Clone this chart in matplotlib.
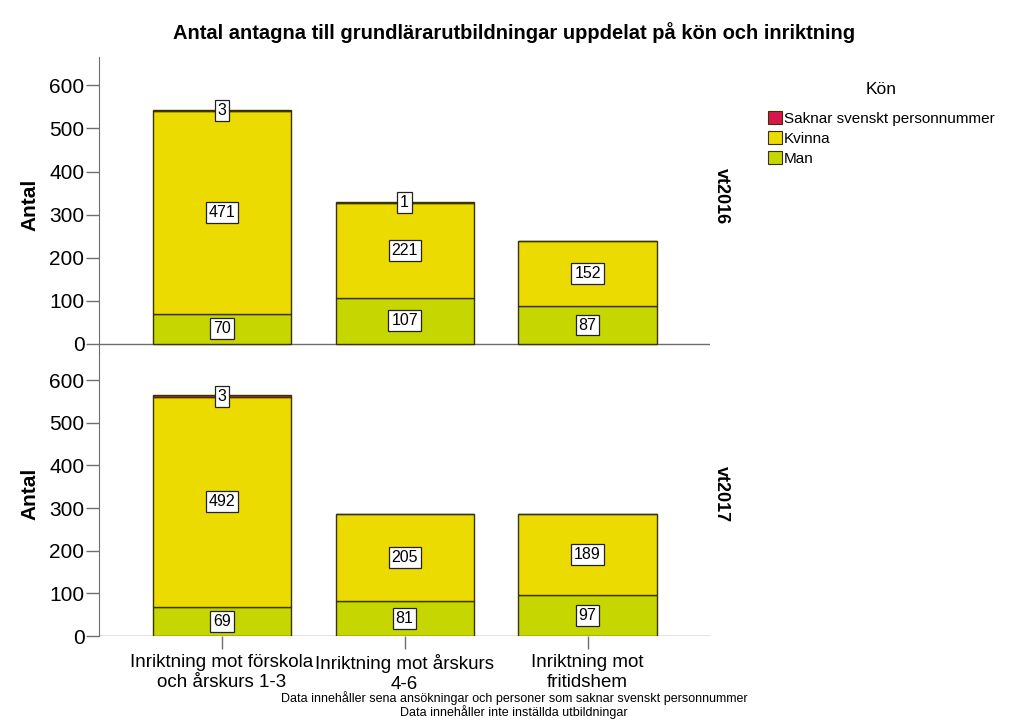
import matplotlib
matplotlib.use("Agg")
import matplotlib.pyplot as plt
from matplotlib.patches import Patch
import numpy as np

plt.rcParams['font.family'] = ['Liberation Sans', 'DejaVu Sans']

# data
categories = ["Inriktning mot förskola\noch årskurs 1-3",
              "Inriktning mot årskurs\n4-6",
              "Inriktning mot\nfritidshem"]
terms = ["vt2016", "vt2017"]
man = [[70, 107, 87], [69, 81, 97]]
kvinna = [[471, 221, 152], [492, 205, 189]]
saknar = [[3, 1, 0], [3, 0, 0]]

series_names = ["Man", "Kvinna", "Saknar svenskt personnummer"]
colors = {"Man": "#c6d600", "Kvinna": "#ebdb00",
          "Saknar svenskt personnummer": "#d8164e"}
edge = "#3a3300"
axis_gray = "#6e6e6e"

fig = plt.figure(figsize=(10.24, 7.28), dpi=100)
ax_top = fig.add_axes([99/1024, 1 - 352/728, 611/1024, 295/728])
ax_bot = fig.add_axes([99/1024, 1 - 636/728, 611/1024, 284/728])

x = np.arange(len(categories))
width = 0.755

for ax, i in [(ax_top, 0), (ax_bot, 1)]:
    bottom = np.zeros(len(categories))
    for name, vals in [("Man", man[i]), ("Kvinna", kvinna[i]),
                       ("Saknar svenskt personnummer", saknar[i])]:
        vals = np.array(vals, dtype=float)
        ax.bar(x, vals, width, bottom=bottom, color=colors[name],
               edgecolor=edge, linewidth=1.0, zorder=3)
        for xi, v, b in zip(x, vals, bottom):
            if v > 0:
                ax.text(xi, b + v / 2, f"{int(v)}", ha='center', va='center',
                        fontsize=11.5, zorder=5,
                        bbox=dict(boxstyle='square,pad=0.18', fc='white',
                                  ec='#222222', lw=0.9))
        bottom += vals

    ax.set_xlim(-0.672, 2.67)
    ax.set_yticks([0, 100, 200, 300, 400, 500, 600])
    ax.tick_params(axis='y', labelsize=15, length=9.5, width=1.0,
                   color=axis_gray, pad=1)
    for s in ['top', 'right', 'bottom']:
        ax.spines[s].set_visible(False)
    ax.spines['left'].set_color(axis_gray)
    ax.axhline(0, color=axis_gray, lw=1.0, zorder=2)
    ax.set_ylabel("Antal", fontsize=15, fontweight='bold')
    ax.yaxis.set_label_coords(-0.098, 0.5)
    ax.text(1.004, 0.5 if i == 1 else 0.53, terms[i], transform=ax.transAxes,
            rotation=-90, ha='left', va='center', fontsize=13,
            fontweight='bold')
    ax.patch.set_visible(False)

ax_top.set_ylim(-19, 666)
ax_top.set_xticks([])
ax_bot.set_ylim(0, 666)
ax_bot.set_xticks(x)
ax_bot.set_xticklabels(categories, fontsize=13.5, linespacing=1.25)
ax_bot.tick_params(axis='x', length=9, width=1.0, color=axis_gray, pad=4)

fig.text(0.502, 1 - 33/728,
         "Antal antagna till grundlärarutbildningar uppdelat på kön och inriktning",
         ha='center', va='center', fontsize=14.5, fontweight='bold')

fig.text(0.502, 1 - 698/728,
         "Data innehåller sena ansökningar och personer som saknar svenskt personnummer",
         ha='center', va='center', fontsize=9)
fig.text(0.502, 1 - 712/728, "Data innehåller inte inställda utbildningar",
         ha='center', va='center', fontsize=9)

handles = [Patch(facecolor=colors[n], edgecolor=edge, lw=0.8)
           for n in reversed(series_names)]
leg = fig.legend(handles, list(reversed(series_names)), title="Kön",
                 loc='upper left', bbox_to_anchor=(762/1024, 1 - 76/728),
                 frameon=False, fontsize=11, title_fontsize=12.5,
                 handlelength=0.9, handleheight=0.9, handletextpad=0.15,
                 labelspacing=0.35, borderaxespad=0)
leg._legend_box.sep = 10

fig.savefig("out.png", dpi=100)
